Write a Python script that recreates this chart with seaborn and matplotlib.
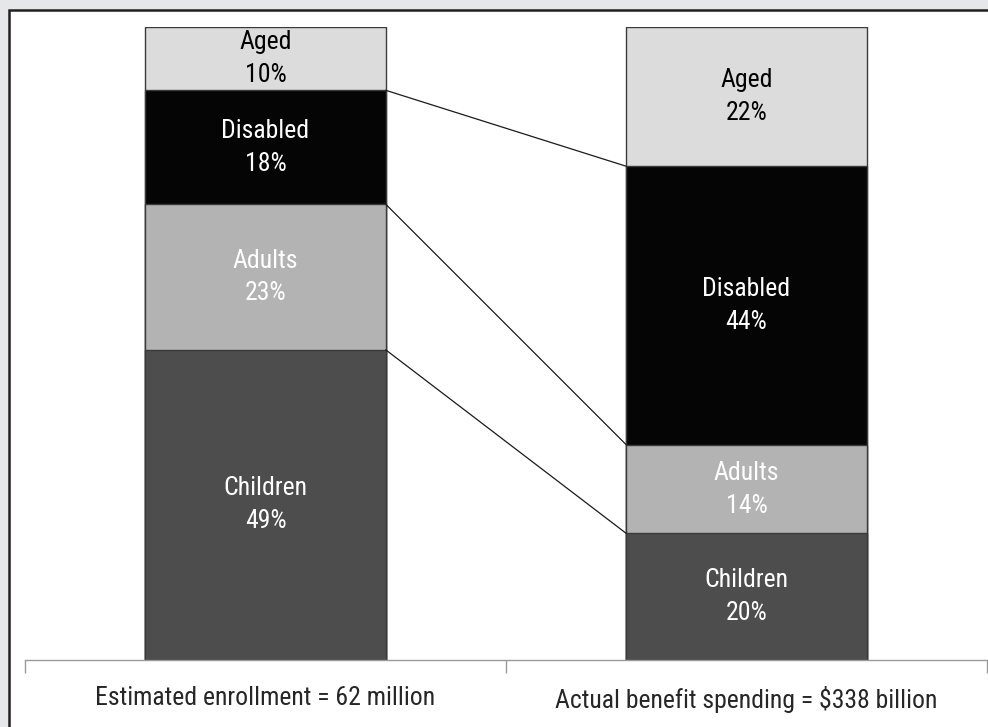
import numpy as np
import pandas as pd
import seaborn as sns
import matplotlib.pyplot as plt
from matplotlib.patches import Rectangle

# data
bars = ['Estimated enrollment = 62 million', 'Actual benefit spending = $338 billion']
groups = ['Children', 'Adults', 'Disabled', 'Aged']
enrollment = [49, 23, 18, 10]
spending = [20, 14, 44, 22]
colors = ['#4d4d4d', '#b3b3b3', '#050505', '#dcdcdc']
text_colors = ['white', 'white', 'white', 'black']

sns.set_style('white')
plt.rcParams['font.family'] = ['Roboto Condensed', 'Liberation Sans Narrow', 'Liberation Sans']

fig = plt.figure(figsize=(9.88, 7.27), dpi=100, facecolor='#e6e7e8')
fig.patches.append(Rectangle((8.5 / 988, -0.1), 1.2, 1.1 - 9.5 / 727,
                             transform=fig.transFigure, facecolor='white',
                             edgecolor='#231f20', lw=1.8, zorder=-1))
ax = fig.add_axes([25 / 988, 67 / 727, 962 / 988, 633 / 727])
ax.set_facecolor('none')

vals = np.array([enrollment, spending])  # rows: bars, cols: groups
cum = vals.cumsum(axis=1)

# stacked bars, drawn back to front from the cumulative totals
for j in range(len(groups) - 1, -1, -1):
    df = pd.DataFrame({'bar': bars, 'top': cum[:, j]})
    sns.barplot(data=df, x='bar', y='top', color=colors[j], width=0.5,
                edgecolor='#3a3a3a', linewidth=1, saturation=1, ax=ax)

# segment labels
for i in range(len(bars)):
    for j, g in enumerate(groups):
        yc = cum[i, j] - vals[i, j] / 2
        ax.text(i, yc, '%s\n%d%%' % (g, vals[i, j]), ha='center', va='center',
                color=text_colors[j], fontsize=18.5, linespacing=1.47)

# connector lines between matching boundaries
for j in range(len(groups) - 1):
    ax.plot([0.25, 0.75], [cum[0, j], cum[1, j]], color='#1a1a1a', lw=0.9)

ax.set_xlim(-0.5, 1.5)
ax.set_ylim(0, 100)
ax.set_xlabel('')
ax.set_ylabel('')
ax.set_yticks([])
ax.set_xticks([0, 1])
ax.set_xticklabels(bars, fontsize=18.5)
ax.tick_params(axis='x', which='major', bottom=True, length=0, pad=19)
ax.set_xticks([-0.5, 0.5, 1.5], minor=True)
ax.tick_params(axis='x', which='minor', bottom=True, length=9, color='#9a9a9a', width=1)
for s in ['top', 'left', 'right']:
    ax.spines[s].set_visible(False)
ax.spines['bottom'].set_color('#9a9a9a')
ax.spines['bottom'].set_linewidth(1)

fig.savefig('out.png', dpi=100, facecolor=fig.get_facecolor())
